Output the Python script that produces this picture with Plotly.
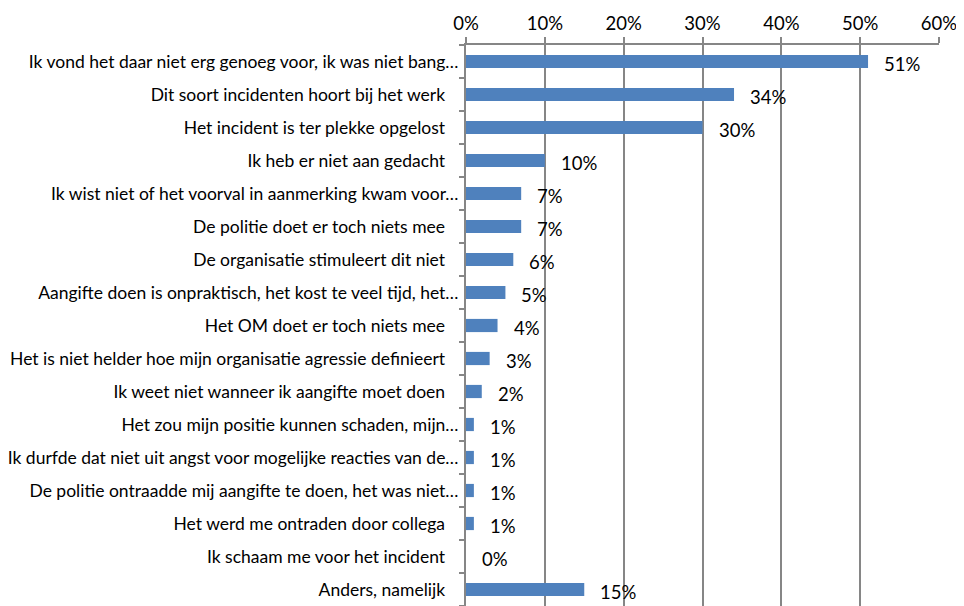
import plotly.graph_objects as go

categories = [
    "Ik vond het daar niet erg genoeg voor, ik was niet bang…",
    "Dit soort incidenten hoort bij het werk",
    "Het incident is ter plekke opgelost",
    "Ik heb er niet aan gedacht",
    "Ik wist niet of het voorval in aanmerking kwam voor…",
    "De politie doet er toch niets mee",
    "De organisatie stimuleert dit niet",
    "Aangifte doen is onpraktisch, het kost te veel tijd, het…",
    "Het OM doet er toch niets mee",
    "Het is niet helder hoe mijn organisatie agressie definieert",
    "Ik weet niet wanneer ik aangifte moet doen",
    "Het zou mijn positie kunnen schaden, mijn…",
    "Ik durfde dat niet uit angst voor mogelijke reacties van de…",
    "De politie ontraadde mij aangifte te doen, het was niet…",
    "Het werd me ontraden door collega",
    "Ik schaam me voor het incident",
    "Anders, namelijk",
]
values = [0.51, 0.34, 0.30, 0.10, 0.07, 0.07, 0.06, 0.05, 0.04, 0.03, 0.02,
          0.01, 0.01, 0.01, 0.01, 0.00, 0.15]
value_labels = ["51%", "34%", "30%", "10%", "7%", "7%", "6%", "5%", "4%", "3%", "2%",
                "1%", "1%", "1%", "1%", "0%", "15%"]
tick_vals = [0, 0.1, 0.2, 0.3, 0.4, 0.5, 0.6]
tick_text = ["0%", "10%", "20%", "30%", "40%", "50%", "60%"]

FONT = "Lato"

tick_labels = [c if c.endswith("…") else c + "\u00a0\u00a0\u00a0" for c in categories]

fig = go.Figure()
fig.add_trace(go.Bar(
    x=values, y=categories, orientation="h",
    marker=dict(color="#4F81BD", line=dict(width=0)),
    hoverinfo="skip",
))

for c, v, t in zip(categories, values, value_labels):
    fig.add_annotation(x=v, y=c, text=t, showarrow=False, xanchor="left",
                       xshift=14, yshift=-2, font=dict(family=FONT, size=18.5, color="#000000"))

fig.update_layout(
    width=956, height=598,
    margin=dict(l=456, r=25, t=37, b=0),
    paper_bgcolor="white", plot_bgcolor="white",
    showlegend=False,
    bargap=0.6,
    font=dict(family=FONT, size=15, color="#000000"),
)
fig.update_xaxes(
    side="top", range=[0, 0.6], tickvals=tick_vals, ticktext=tick_text,
    showgrid=True, gridcolor="#868686", gridwidth=2,
    showline=True, linecolor="#868686", linewidth=2,
    ticks="outside", ticklen=6, tickcolor="#868686", tickwidth=2,
    tickfont=dict(family=FONT, size=18.5), zeroline=False,
)
fig.update_yaxes(
    type="category", autorange="reversed",
    tickvals=categories, ticktext=tick_labels,
    showline=True, linecolor="#868686", linewidth=2,
    ticks="outside", ticklen=5, tickcolor="#868686", tickwidth=2,
    tickson="boundaries", ticklabelstandoff=2,
    tickfont=dict(family=FONT, size=17.5), showgrid=False,
)

fig.write_html("out.html")
